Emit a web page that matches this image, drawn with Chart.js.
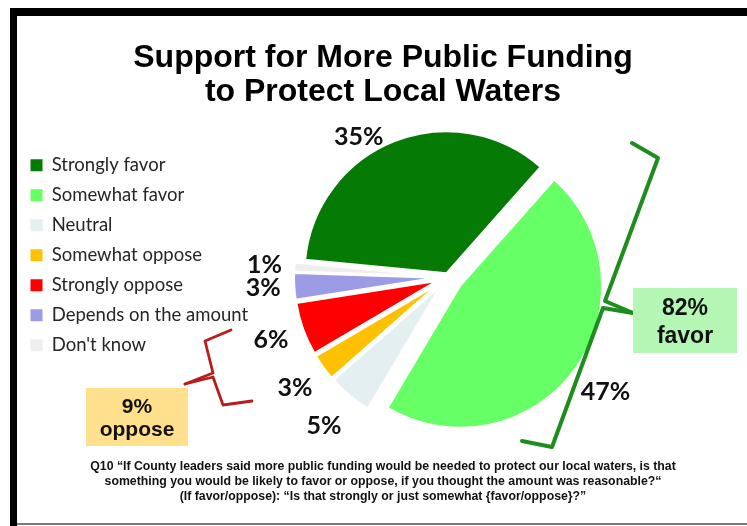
<!DOCTYPE html>
<html><head><meta charset="utf-8">
<script src="https://cdn.jsdelivr.net/npm/chart.js@4.4.1/dist/chart.umd.min.js"></script>
<style>html,body{margin:0;padding:0;background:#fff;}#wrap{position:relative;width:747px;height:526px;}</style>
</head><body><div id="wrap"><canvas id="c"></canvas></div>
<script>
const categories = ['Strongly favor', 'Somewhat favor', 'Neutral', 'Somewhat oppose', 'Strongly oppose', 'Depends on the amount', "Don't know"];
const values = [35, 47, 5, 3, 6, 3, 1];
const valueLabels = ['35%', '47%', '5%', '3%', '6%', '3%', '1%'];
const sliceColors = ['#057a05', '#66ff66', '#e3eff1', '#ffc000', '#ff0000', '#9c9ce6', '#eeeeee'];
// how far each slice is pulled out of the pie (pixels)
const sliceExplode = [4, 15, 12, 12, 12, 12, 12];
const titleLines = ['Support for More Public Funding', 'to Protect Local Waters'];
const footnoteLines = [
  'Q10 \u201cIf County leaders said more public funding would be needed to protect our local waters, is that',
  'something you would be likely to favor or oppose, if you thought the amount was reasonable?\u201c',
  '(If favor/oppose): \u201cIs that strongly or just somewhat {favor/oppose}?\u201d'
];
const favorTotal = values[0] + values[1];
const opposeTotal = values[3] + values[4];
const favorSummary = [favorTotal + '%', 'favor'];
const opposeSummary = [opposeTotal + '%', 'oppose'];

// label placement (extra distance beyond the rim, angle nudge in degrees)
const labelGap = [24, 53, 52, 47, 46, 43, 42];
const labelShift = [-11, 0, 0, 0, 0, 0, 0];

const PAD_LEFT = 19;
const PIE_CX = 448;
const rightSpacer = {
  id: 'rightSpacer',
  beforeInit(chart) {
    const box = {
      position: 'right', weight: 0, fullSize: false, options: {},
      left: 0, top: 0, right: 0, bottom: 0, width: 0, height: 0,
      isHorizontal() { return false; },
      update(maxWidth, maxHeight) {
        const lg = chart.legend;
        const legendRight = PAD_LEFT + (lg ? lg.width : 0);
        this.width = Math.max(0, chart.width - (2 * PIE_CX - legendRight));
        this.height = maxHeight;
        return {};
      },
      draw() {}
    };
    Chart.layouts.addBox(chart, box);
  }
};

function pieCenter(chart) {
  const a = chart.chartArea;
  return { x: (a.left + a.right) / 2, y: (a.top + a.bottom) / 2 };
}

// pull slices outward without changing their radius
const explode = {
  id: 'explode',
  afterDatasetUpdate(chart, args) {
    const c = pieCenter(chart);
    const meta = chart.getDatasetMeta(args.index);
    meta.data.forEach((arc, i) => {
      const mid = (arc.startAngle + arc.endAngle) / 2;
      const e = sliceExplode[i] || 0;
      arc.x = c.x + Math.cos(mid) * e;
      arc.y = c.y + Math.sin(mid) * e;
    });
  }
};

function poly(ctx, pts, cx, cy) {
  ctx.beginPath();
  pts.forEach((p, i) => { if (i === 0) ctx.moveTo(cx + p[0], cy + p[1]); else ctx.lineTo(cx + p[0], cy + p[1]); });
  ctx.stroke();
}

const decor = {
  id: 'decor',
  beforeDraw(chart) {
    const ctx = chart.ctx, W = chart.width, H = chart.height;
    ctx.save();
    ctx.fillStyle = '#ffffff'; ctx.fillRect(0, 0, W, H);
    ctx.fillStyle = '#000000';
    ctx.fillRect(10, 8, 7, H - 8);
    ctx.fillRect(10, 8, W - 10, 8);
    ctx.fillStyle = '#7a7a7a';
    ctx.fillRect(17, 523, W - 17, 2);
    ctx.restore();
  },
  afterDatasetsDraw(chart) {
    const ctx = chart.ctx;
    const meta = chart.getDatasetMeta(0);
    const c = pieCenter(chart);
    const cx = c.x, cy = c.y;
    ctx.save();
    ctx.font = 'bold 25px Lato';
    ctx.fillStyle = '#111111';
    ctx.textAlign = 'center';
    ctx.textBaseline = 'middle';
    meta.data.forEach((arc, i) => {
      const p = arc.getProps(['startAngle', 'endAngle', 'outerRadius'], true);
      const mid = (p.startAngle + p.endAngle) / 2 + labelShift[i] * Math.PI / 180;
      const d = p.outerRadius + labelGap[i];
      ctx.fillText(valueLabels[i], cx + Math.cos(mid) * d, cy + Math.sin(mid) * d);
    });
    ctx.lineJoin = 'round'; ctx.lineCap = 'round';
    ctx.strokeStyle = '#1e8c1e'; ctx.lineWidth = 4;
    poly(ctx, [[184, -134], [210, -119], [157, 24], [185, 36]], cx, cy);
    poly(ctx, [[185, 36], [155, 31], [104, 170], [74, 164]], cx, cy);
    ctx.strokeStyle = '#b81c1c'; ctx.lineWidth = 2.8;
    poly(ctx, [[-217, 53], [-243, 64], [-235, 96], [-263, 107]], cx, cy);
    poly(ctx, [[-263, 107], [-235, 100], [-225, 128], [-196, 124]], cx, cy);
    ctx.fillStyle = '#b4f7b4';
    ctx.fillRect(cx + 185, cy + 11, 104, 65);
    ctx.fillStyle = '#ffe08c';
    ctx.fillRect(cx - 362, cy + 111, 102, 58);
    ctx.fillStyle = '#111111';
    ctx.textBaseline = 'alphabetic';
    ctx.font = 'bold 23px "Liberation Sans", Arial, sans-serif';
    ctx.fillText(favorSummary[0], cx + 237, cy + 38);
    ctx.fillText(favorSummary[1], cx + 237, cy + 66);
    ctx.font = 'bold 21px "Liberation Sans", Arial, sans-serif';
    ctx.fillText(opposeSummary[0], cx - 311, cy + 136);
    ctx.fillText(opposeSummary[1], cx - 311, cy + 159);
    ctx.restore();
  }
};

Chart.defaults.font.family = 'Lato';
new Chart(document.getElementById('c'), {
  type: 'pie',
  data: {
    labels: categories,
    datasets: [{
      data: values,
      backgroundColor: sliceColors,
      borderColor: '#ffffff',
      borderWidth: 2,
      hoverOffset: 0
    }]
  },
  options: {
    responsive: true,
    maintainAspectRatio: false,
    animation: false,
    rotation: -84.5,
    radius: 142,
    events: [],
    layout: { padding: { left: PAD_LEFT, right: 0, top: 16, bottom: 0 } },
    plugins: {
      title: {
        display: true,
        text: titleLines,
        color: '#000000',
        font: { family: '"Liberation Sans", Arial, sans-serif', weight: 'bold', size: 32, lineHeight: '34px' },
        padding: { top: 25, bottom: 35.5 }
      },
      subtitle: {
        display: true,
        position: 'bottom',
        text: footnoteLines,
        color: '#111111',
        font: { family: '"Liberation Sans Narrow", "Liberation Sans", Arial, sans-serif', weight: 'bold', size: 12.3, lineHeight: '15px' },
        padding: { top: 50, bottom: 21.5 }
      },
      legend: {
        position: 'left',
        align: 'start',
        fullSize: false,
        maxWidth: 320,
        labels: {
          boxWidth: 12, boxHeight: 12, padding: 11.5,
          color: '#262626',
          font: { family: 'Lato', size: 18.5 },
          generateLabels(chart) {
            const items = Chart.overrides.pie.plugins.legend.labels.generateLabels(chart);
            items.forEach(it => { it.lineWidth = 0; it.strokeStyle = 'rgba(0,0,0,0)'; });
            return items;
          }
        }
      },
      tooltip: { enabled: false }
    }
  },
  plugins: [rightSpacer, explode, decor]
});
</script>
</body></html>
